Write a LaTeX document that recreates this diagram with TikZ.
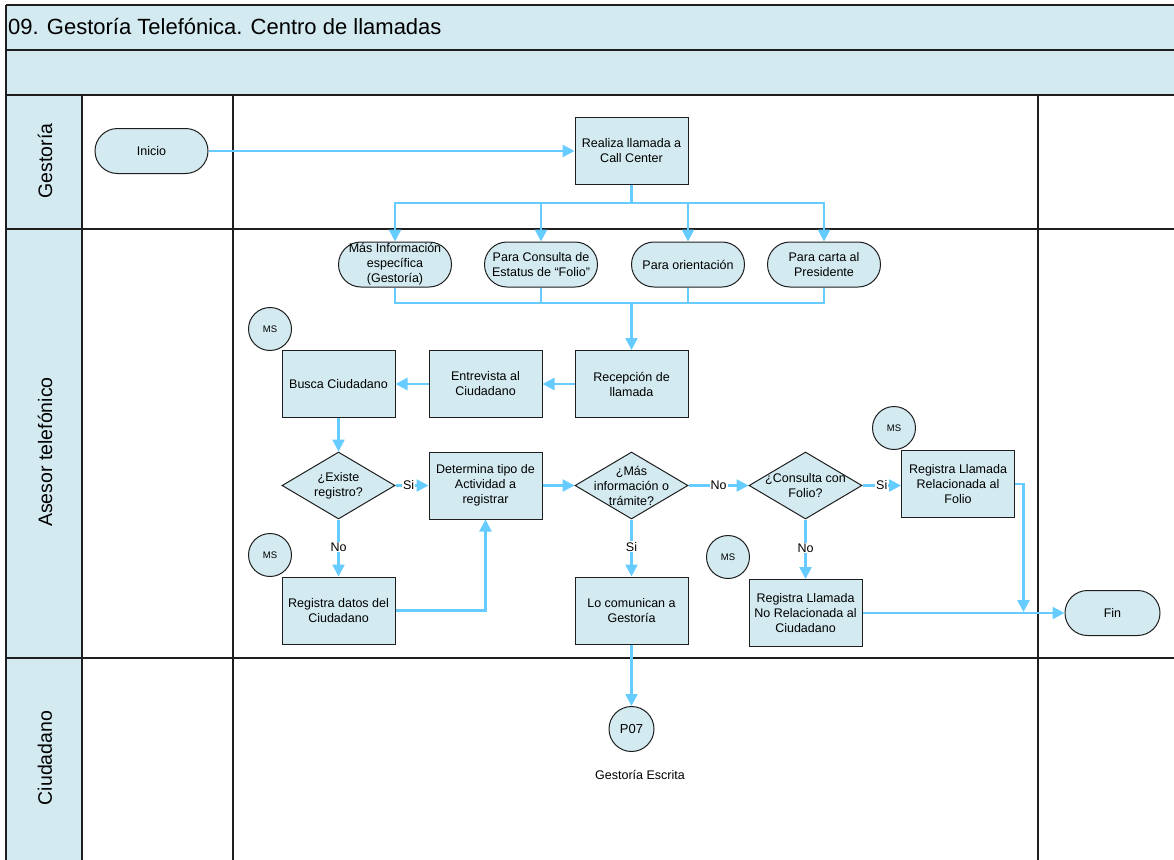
\documentclass[tikz,border=0pt]{standalone}
\usepackage{fontspec}
\setmainfont{Liberation Sans}
\usetikzlibrary{arrows.meta,shapes.geometric}
\definecolor{fillc}{RGB}{211,234,240}
\definecolor{flowc}{RGB}{102,204,255}
\definecolor{framec}{RGB}{30,30,30}
\begin{document}
\begin{tikzpicture}[x=1pt,y=-1pt,
 box/.style={draw=framec,line width=1pt,fill=fillc,minimum width=113pt,minimum height=67pt,inner sep=1pt,align=center,font=\fontsize{12.5}{15}\selectfont},
 term/.style={box,rounded corners=22.5pt,minimum height=45pt},
 dec/.style={draw=framec,line width=1pt,fill=fillc,diamond,minimum width=113pt,minimum height=67pt,inner sep=0pt},
 dtext/.style={align=center,inner sep=0pt,font=\fontsize{12.5}{15}\selectfont},
 ms/.style={circle,draw=framec,line width=1pt,fill=fillc,minimum size=43pt,inner sep=0pt,font=\fontsize{9.5}{11}\selectfont},
 flow/.style={draw=flowc,line width=2.4pt,-{Triangle[length=12pt,width=12pt]}},
 fline/.style={draw=flowc,line width=2.4pt},
 lab/.style={fill=white,inner sep=1pt,font=\fontsize{12.5}{15}\selectfont},
 lane/.style={draw=framec,line width=1.2pt},
 lanetext/.style={rotate=90,font=\fontsize{19.5}{23}\selectfont}
]
\useasboundingbox (0,0) rectangle (1174,859);
% frame
\fill[fillc] (6,5) rectangle (1180,95);
\fill[fillc] (6,95) rectangle (82,865);
\draw[lane] (6,5) -- (1180,5);
\draw[lane] (6,50) -- (1180,50);
\draw[lane] (6,95) -- (1180,95);
\draw[lane] (6,229) -- (1180,229);
\draw[lane] (6,658) -- (1180,658);
\draw[lane] (6,5) -- (6,865);
\draw[lane] (82,95) -- (82,865);
\draw[lane] (233,95) -- (233,865);
\draw[lane] (1038,95) -- (1038,865);
\node[anchor=west,inner sep=0pt,font=\fontsize{22}{26}\selectfont] (title) at (8,27) {09. Gestoría Telefónica. Centro de llamadas};
\node[lanetext] (lg) at (45,161) {Gestoría};
\node[lanetext] (la) at (45,452) {Asesor telefónico};
\node[lanetext] (lc) at (45,758) {Ciudadano};
% nodes
\node[term] (ini) at (151.5,151) {Inicio};
\node[box] (real) at (631.5,151) {Realiza llamada a\\Call Center};
\node[term] (t1) at (395,264.5) {Más Información\\específica\\(Gestoría)};
\node[term] (t2) at (541,264.5) {Para Consulta de\\Estatus de “Folio”};
\node[term] (t3) at (688,264.5) {Para orientación};
\node[term] (t4) at (824,264.5) {Para carta al\\Presidente};
\node[box] (rec) at (631.5,384) {Recepción de\\llamada};
\node[box] (ent) at (485.5,384) {Entrevista al\\Ciudadano};
\node[box] (bus) at (338.5,384) {Busca Ciudadano};
\node[dec,label={[dtext]center:{¿Existe\\registro?}}] (ex) at (338.5,485.5) {};
\node[box] (det) at (485.5,485.5) {Determina tipo de\\Actividad a\\registrar};
\node[dec,label={[dtext]center:{¿Más\\información o\\trámite?}}] (mas) at (631.5,485.5) {};
\node[dec,label={[dtext]center:{¿Consulta con\\Folio?}}] (con) at (805.5,485.5) {};
\node[box] (relf) at (958,484) {Registra Llamada\\Relacionada al\\Folio};
\node[box] (reg) at (338.5,610.5) {Registra datos del\\Ciudadano};
\node[box] (com) at (631.5,610.5) {Lo comunican a\\Gestoría};
\node[box] (norel) at (805.5,613) {Registra Llamada\\No Relacionada al\\Ciudadano};
\node[term,minimum width=95pt] (fin) at (1112.5,613) {Fin};
\node[ms] (ms1) at (270,329) {MS};
\node[ms] (ms2) at (270,555) {MS};
\node[ms] (ms3) at (894,428) {MS};
\node[ms] (ms4) at (728,557) {MS};
\node[circle,draw=framec,line width=1pt,fill=fillc,minimum size=45pt,inner sep=0pt,font=\fontsize{13}{15}\selectfont] (p07) at (631.5,729) {P07};
\node[font=\fontsize{12.5}{15}\selectfont] (gesc) at (640,775) {Gestoría Escrita};
% connectors
\draw[flow] (ini) -- (real);
\coordinate (tb) at (631.5,203);
\coordinate (bb) at (631.5,303);
\draw[fline] (real.south) -- (tb);
\draw[flow] (tb) -| (t1.north);
\draw[flow] (tb) -| (t2.north);
\draw[flow] (tb) -| (t3.north);
\draw[flow] (tb) -| (t4.north);
\draw[fline] (t1.south) |- (bb);
\draw[fline] (t2.south) |- (bb);
\draw[fline] (t3.south) |- (bb);
\draw[fline] (t4.south) |- (bb);
\draw[flow] (bb) -- (rec.north);
\draw[flow] (rec) -- (ent);
\draw[flow] (ent) -- (bus);
\draw[flow] (bus) -- (ex.north);
\draw[flow] (ex.east) -- node[lab,pos=0.4] {Si} (det.west);
\draw[flow] (ex.south) -- node[lab,pos=0.48] {No} (reg.north);
\draw[flow] (reg.east) -| (det.south);
\draw[flow] (det.east) -- (mas.west);
\draw[flow] (mas.east) -- node[lab,pos=0.5] {No} (con.west);
\draw[flow] (mas.south) -- node[lab,pos=0.48] {Si} (com.north);
\draw[flow] (con.east) -- node[lab,pos=0.5] {Si} (con.east -| relf.west);
\draw[flow] (con.south) -- node[lab,pos=0.48] {No} (norel.north);
\coordinate (jn) at (1023.5,612);
\draw[flow] (relf.east) -| (jn);
\draw[flow] (norel.east) -- (fin.west);
\draw[flow] (com.south) -- (p07.north);
\end{tikzpicture}
\end{document}
